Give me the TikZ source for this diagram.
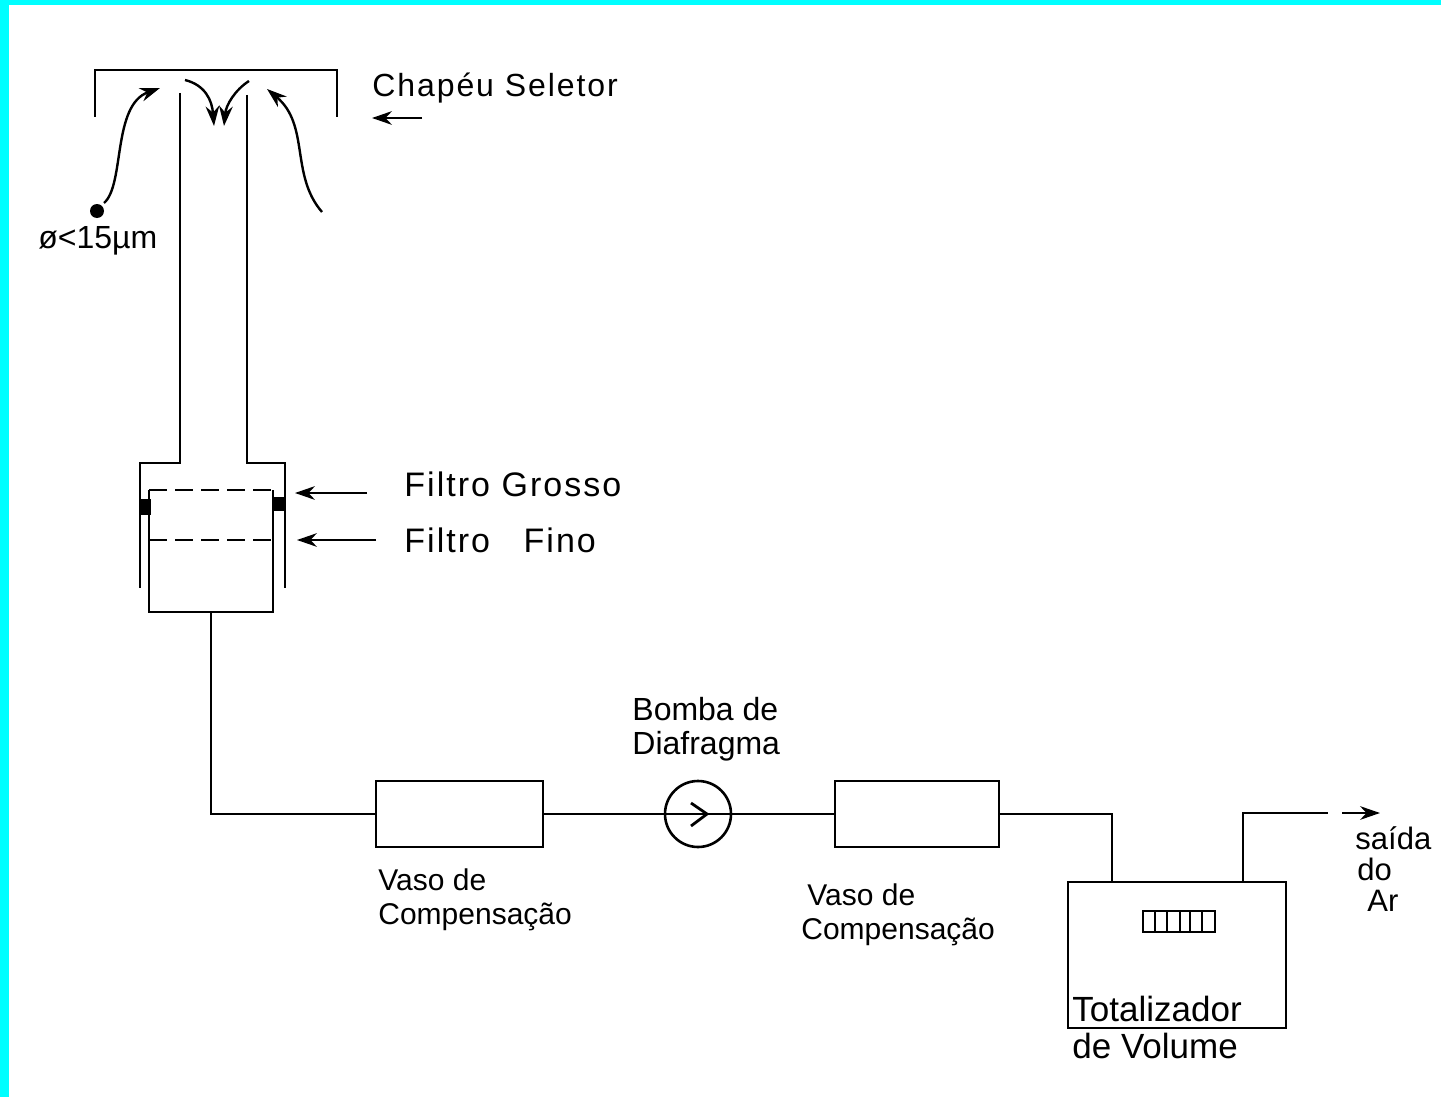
\documentclass[tikz,border=0pt]{standalone}
\usepackage{fontspec}
\setmainfont{Liberation Sans}
\newfontfamily\handfont[LetterSpace=6]{Liberation Sans}
\usetikzlibrary{positioning,arrows.meta}
\definecolor{ink}{HTML}{000000}
\definecolor{band}{HTML}{00FFFF}
\tikzset{
  >={Stealth[length=3.5mm,width=2.4mm]},
  tank/.style={draw=ink, line width=1.3pt, inner sep=0pt, outer sep=0pt},
  pipe/.style={draw=ink, line width=1.4pt},
  thinpipe/.style={draw=ink, line width=1pt},
  flowarr/.style={->, draw=ink, line width=1.2pt},
  lab/.style={anchor=west, align=left, inner sep=0pt, text=ink, font=\fontsize{15}{17}\selectfont},
  biglab/.style={anchor=west, inner sep=0pt, text=ink, font=\handfont\fontsize{17}{20}\selectfont},
}
\begin{document}
\begin{tikzpicture}[x=0.5pt,y=-0.5pt]
  \useasboundingbox (0,0) rectangle (1441,1097);
  \fill[band] (0,0) rectangle (1441,5);
  \fill[band] (0,0) rectangle (9,1097);
  % selector hat
  \coordinate (hatA) at (95,117);
  \coordinate (hatB) at (337,117);
  \coordinate (tubeL) at (180,93);
  \coordinate (tubeR) at (247,95);
  \draw[thinpipe] (hatA) -- (95,70) -- (337,70) -- (hatB);
  \node[biglab,font=\handfont\fontsize{16}{20}\selectfont] (hatlab) at (372,88) {Chapéu Seletor};
  \coordinate (hatgoA) at (422,118);
  \coordinate (hatgoB) at (372,118);
  \draw[flowarr] (hatgoA) -- (hatgoB);
  % air paths
  \node[circle,fill=ink,inner sep=0pt,minimum size=7pt] (dust) at (97,211) {};
  \node[lab,font=\fontsize{16}{18}\selectfont] (dustlab) at (38,241) {ø<15µm};
  \coordinate (inA) at (104,203);
  \coordinate (inB) at (160,88);
  \coordinate (inC) at (322,212);
  \coordinate (inD) at (267,89);
  \coordinate (inE) at (185,80);
  \coordinate (inF) at (214,126);
  \coordinate (inG) at (249,81);
  \coordinate (inH) at (224,126);
  \draw[flowarr] (inA) .. controls (125,185) and (112,105) .. (inB);
  \draw[flowarr] (inC) .. controls (290,175) and (310,125) .. (inD);
  \draw[flowarr] (inE) .. controls (205,85) and (212,100) .. (inF);
  \draw[flowarr] (inG) .. controls (235,90) and (226,105) .. (inH);
  % filter housing
  \node[minimum width=62pt,minimum height=61pt,inner sep=0pt,outer sep=0pt] (filt) at (211,551) {};
  \draw[thinpipe] (tubeL) -- (180,463) -- (140,463) -- (140,588);
  \draw[pipe] (tubeR) -- (247,463) -- (285,463) -- (285,588);
  \draw[pipe] (filt.north west) -- (filt.south west) -- (filt.south east) -- (filt.north east);
  \draw[pipe,dash pattern=on 9pt off 4pt] (filt.north west) -- (filt.north east);
  \path (filt.west) ++(0,-11) coordinate (fineL);
  \path (filt.east) ++(0,-11) coordinate (fineR);
  \draw[pipe,dash pattern=on 9pt off 4pt] (fineL) -- (fineR);
  \fill[ink] (140,499) rectangle (151,515);
  \fill[ink] (273,497) rectangle (286,511);
  \node[biglab] (grosso) at (404,484) {Filtro Grosso};
  \node[biglab] (fino) at (404,540) {Filtro\hspace{11pt} Fino};
  \coordinate (grossoA) at (367,493);
  \coordinate (grossoB) at (295,493);
  \coordinate (finoA) at (376,540);
  \coordinate (finoB) at (297,540);
  \draw[flowarr] (grossoA) -- (grossoB);
  \draw[flowarr,line width=.8pt] (finoA) -- (finoB);
  % line to the pump and the meter
  \node[tank,minimum width=83.5pt,minimum height=33pt] (vasoa) at (459.5,814) {};
  \node[tank,circle,minimum size=33pt,right=61pt of vasoa] (pump) {};
  \node[tank,minimum width=82pt,minimum height=33pt,right=52pt of pump] (vasob) {};
  \node[tank,minimum width=109pt,minimum height=73pt] (meter) at (1177,955) {};
  \node[draw=ink,line width=1pt,minimum width=36pt,minimum height=10.5pt,inner sep=0pt] (count) at (1179,921.5) {};
  \foreach \cx in {1155,1167,1180,1190,1202}
    \draw[thinpipe] (\cx,911) -- (\cx,932);
  \draw[pipe] (filt.south) |- (vasoa.west);
  \draw[pipe] (vasoa.east) -- (pump.west) -- (pump.east) -- (vasob.west);
  \draw[pipe] (691,803) -- (707,814) -- (691,826);
  \draw[pipe] (vasob.east) -- ++(113,0) coordinate (topA) -- (topA |- meter.north);
  \coordinate (outA) at (1243,882);
  \coordinate (outB) at (1243,813);
  \coordinate (outC) at (1328,813);
  \coordinate (outD) at (1342,813);
  \coordinate (outE) at (1380,813);
  \draw[thinpipe] (outA) -- (outB) -- (outC);
  \draw[flowarr] (outD) -- (outE);
  % labels
  \node[lab] (vasoalab) at (378,900) {Vaso de\\Compensação};
  \node[lab] (vasoblab) at (801,915) {\hspace{3pt}Vaso de\\Compensação};
  \node[lab,font=\fontsize{16}{17}\selectfont] (pumplab) at (632,729) {Bomba de\\Diafragma};
  \node[lab,font=\fontsize{17.5}{18.5}\selectfont] (meterlab) at (1072,1027) {Totalizador\\de Volume};
  \node[lab,font=\fontsize{15.5}{15.5}\selectfont] (outlab) at (1355,869) {saída\\\hspace{1pt}do\\\hspace{6pt}Ar};
\end{tikzpicture}
\end{document}
